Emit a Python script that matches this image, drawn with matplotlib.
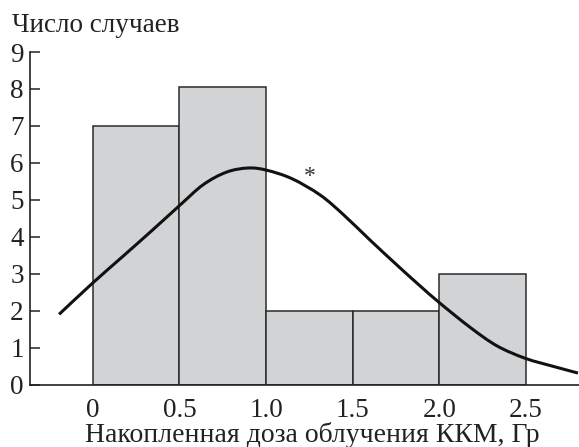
import matplotlib
matplotlib.use("Agg")
import matplotlib.pyplot as plt
from matplotlib.path import Path
from matplotlib.patches import PathPatch

# Histogram data
bin_left = [0.0, 0.5, 1.0, 1.5, 2.0]
bin_width = 0.5
counts = [7.0, 8.05, 2.0, 2.0, 3.0]

# Fitted curve
curve_x = [-0.194, -0.002, 0.167, 0.34, 0.50, 0.638, 0.773, 0.898, 1.004,
           1.15, 1.312, 1.446, 1.60, 1.754, 1.879, 2.004, 2.177, 2.331,
           2.495, 2.658, 2.80]
curve_y = [1.90, 2.74, 3.44, 4.16, 4.84, 5.41, 5.75, 5.86, 5.80,
           5.57, 5.13, 4.60, 3.91, 3.24, 2.71, 2.20, 1.55, 1.05,
           0.71, 0.49, 0.31]

star_x, star_y = 1.254, 5.64

x_ticks = [0, 0.5, 1.0, 1.5, 2.0, 2.5]
x_ticklabels = ["0", "0.5", "1.0", "1.5", "2.0", "2.5"]
y_ticks = list(range(0, 10))

plt.rcParams['font.family'] = ['Liberation Serif', 'DejaVu Serif']

W, H = 579, 447
FS = 19.5
fig = plt.figure(figsize=(W / 100, H / 100), dpi=100)
ax = fig.add_axes([30 / W, 1 - 384.5 / H, 1 - 30 / W, (384.5 - 52) / H])

ax.bar(bin_left, counts, width=bin_width, align='edge',
       facecolor='#d2d3d5', edgecolor='#2a2a2a', linewidth=1.1, zorder=2)


def smooth_path(xs, ys):
    """Bezier path passing through the given points (Catmull-Rom style)."""
    pts = list(zip(xs, ys))
    n = len(pts)
    verts = [pts[0]]
    codes = [Path.MOVETO]
    for i in range(n - 1):
        p0 = pts[i - 1] if i > 0 else pts[i]
        p1 = pts[i]
        p2 = pts[i + 1]
        p3 = pts[i + 2] if i + 2 < n else pts[i + 1]
        c1 = (p1[0] + (p2[0] - p0[0]) / 6, p1[1] + (p2[1] - p0[1]) / 6)
        c2 = (p2[0] - (p3[0] - p1[0]) / 6, p2[1] - (p3[1] - p1[1]) / 6)
        verts += [c1, c2, p2]
        codes += [Path.CURVE4] * 3
    return Path(verts, codes)


ax.add_patch(PathPatch(smooth_path(curve_x, curve_y), facecolor='none',
                       edgecolor='#111111', linewidth=2.2, zorder=3,
                       capstyle='butt'))
ax.text(star_x, star_y, "*", fontsize=17, ha='center', va='center',
        color='#333333', zorder=4)

ax.set_xlim(-0.362, 2.806)
ax.set_ylim(0, 9)
ax.set_xticks(x_ticks)
ax.set_xticklabels(x_ticklabels)
ax.set_yticks(y_ticks)

for s in ['top', 'right']:
    ax.spines[s].set_visible(False)
for s in ['left', 'bottom']:
    ax.spines[s].set_linewidth(1.2)
    ax.spines[s].set_color('#222222')

ax.tick_params(axis='x', length=0, pad=10, labelsize=FS, colors='#222222')
ax.tick_params(axis='y', direction='in', length=7, width=1.1, pad=4.5,
               labelsize=FS, colors='#222222')

fig.text(11.7 / W, 1 - 31.5 / H, "Число случаев", fontsize=FS,
         ha='left', va='baseline', color='#222222')
fig.text(312 / W, 1 - 441.5 / H, "Накопленная доза облучения ККМ, Гр",
         fontsize=FS + 0.5, ha='center', va='baseline', color='#222222')

fig.savefig("out.png", dpi=100)
